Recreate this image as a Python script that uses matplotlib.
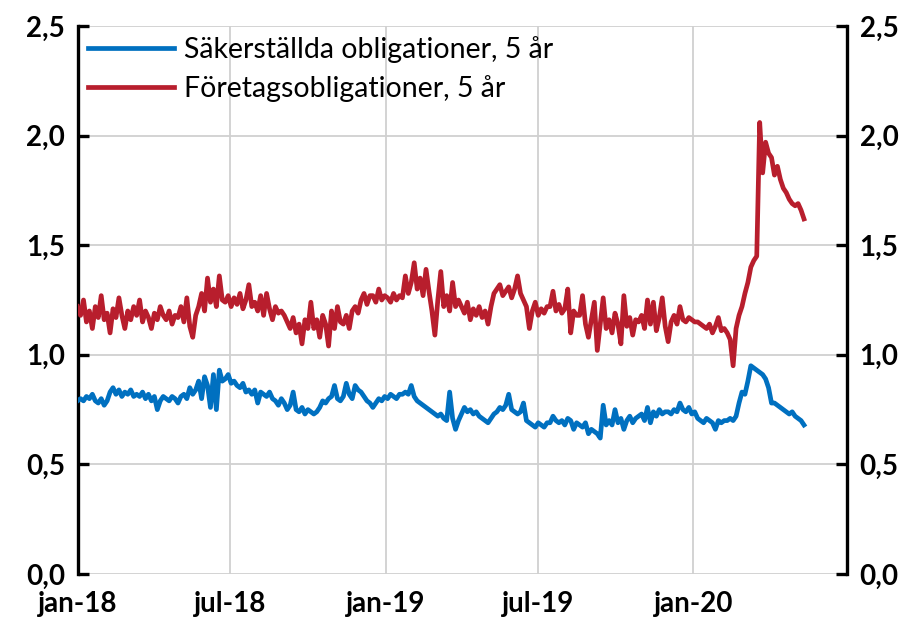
import pandas as pd
import matplotlib
matplotlib.use('Agg')
from matplotlib import pyplot as plt

# Räntor (procent), ungefär två observationer per vecka från jan-2018
foretag = [
    1.22, 1.18, 1.25, 1.15, 1.20, 1.12, 1.22, 1.17, 1.27, 1.16,
    1.19, 1.10, 1.21, 1.17, 1.26, 1.18, 1.12, 1.20, 1.16, 1.22,
    1.18, 1.25, 1.15, 1.20, 1.17, 1.12, 1.19, 1.16, 1.22, 1.18,
    1.16, 1.20, 1.14, 1.18, 1.17, 1.22, 1.15, 1.26, 1.13, 1.08,
    1.18, 1.22, 1.28, 1.20, 1.35, 1.24, 1.30, 1.22, 1.36, 1.25,
    1.24, 1.27, 1.22, 1.26, 1.23, 1.28, 1.21, 1.25, 1.32, 1.22,
    1.24, 1.20, 1.27, 1.18, 1.28, 1.21, 1.16, 1.22, 1.19, 1.20,
    1.18, 1.15, 1.12, 1.17, 1.10, 1.14, 1.05, 1.16, 1.12, 1.24,
    1.12, 1.16, 1.08, 1.18, 1.14, 1.04, 1.20, 1.12, 1.22, 1.15,
    1.14, 1.18, 1.12, 1.20, 1.22, 1.19, 1.25, 1.28, 1.23, 1.27,
    1.27, 1.24, 1.30, 1.25, 1.27, 1.26, 1.24, 1.28, 1.25, 1.27,
    1.26, 1.36, 1.28, 1.33, 1.42, 1.30, 1.35, 1.27, 1.39, 1.29,
    1.20, 1.09, 1.25, 1.38, 1.22, 1.27, 1.20, 1.33, 1.22, 1.25,
    1.22, 1.19, 1.24, 1.16, 1.21, 1.18, 1.22, 1.17, 1.20, 1.14,
    1.22, 1.28, 1.30, 1.32, 1.27, 1.29, 1.31, 1.26, 1.30, 1.36,
    1.28, 1.25, 1.22, 1.12, 1.20, 1.24, 1.18, 1.21, 1.19, 1.22,
    1.22, 1.29, 1.20, 1.23, 1.19, 1.21, 1.30, 1.10, 1.20, 1.18,
    1.18, 1.27, 1.14, 1.08, 1.16, 1.24, 1.02, 1.14, 1.26, 1.12,
    1.16, 1.10, 1.19, 1.14, 1.05, 1.27, 1.13, 1.17, 1.09, 1.16,
    1.15, 1.18, 1.12, 1.25, 1.14, 1.24, 1.11, 1.17, 1.26, 1.13,
    1.06, 1.15, 1.18, 1.14, 1.22, 1.16, 1.15, 1.17, 1.16, 1.15,
    1.15, 1.14, 1.13, 1.12, 1.14, 1.10, 1.13, 1.17, 1.11, 1.12,
    1.10, 1.07, 0.95, 1.12, 1.18, 1.22, 1.28, 1.33, 1.40, 1.43,
    1.45, 2.06, 1.83, 1.97, 1.92, 1.90, 1.82, 1.86, 1.80, 1.76,
    1.74, 1.71, 1.69, 1.68, 1.69, 1.66, 1.62,
]

sakerstallda = [
    0.79, 0.80, 0.79, 0.81, 0.80, 0.82, 0.79, 0.78, 0.80, 0.77,
    0.79, 0.83, 0.85, 0.82, 0.84, 0.81, 0.83, 0.82, 0.84, 0.81,
    0.82, 0.81, 0.83, 0.80, 0.82, 0.79, 0.81, 0.75, 0.79, 0.81,
    0.80, 0.79, 0.81, 0.80, 0.78, 0.81, 0.82, 0.80, 0.85, 0.82,
    0.84, 0.88, 0.80, 0.90, 0.86, 0.76, 0.91, 0.75, 0.93, 0.88,
    0.89, 0.91, 0.87, 0.88, 0.86, 0.85, 0.87, 0.83, 0.84, 0.82,
    0.84, 0.78, 0.83, 0.82, 0.81, 0.83, 0.80, 0.79, 0.77, 0.80,
    0.78, 0.75, 0.77, 0.83, 0.75, 0.74, 0.76, 0.73, 0.75, 0.74,
    0.73, 0.74, 0.76, 0.79, 0.78, 0.80, 0.81, 0.86, 0.80, 0.79,
    0.81, 0.87, 0.82, 0.80, 0.86, 0.84, 0.83, 0.81, 0.79, 0.78,
    0.76, 0.78, 0.80, 0.79, 0.81, 0.80, 0.82, 0.81, 0.80, 0.82,
    0.82, 0.83, 0.82, 0.86, 0.81, 0.79, 0.78, 0.77, 0.76, 0.75,
    0.74, 0.73, 0.72, 0.73, 0.71, 0.70, 0.83, 0.71, 0.66, 0.70,
    0.73, 0.76, 0.74, 0.75, 0.73, 0.74, 0.72, 0.71, 0.70, 0.69,
    0.71, 0.73, 0.74, 0.76, 0.75, 0.77, 0.82, 0.75, 0.74, 0.73,
    0.74, 0.78, 0.70, 0.69, 0.68, 0.67, 0.69, 0.68, 0.67, 0.69,
    0.69, 0.72, 0.70, 0.69, 0.70, 0.68, 0.71, 0.70, 0.66, 0.69,
    0.68, 0.67, 0.69, 0.64, 0.66, 0.65, 0.64, 0.62, 0.77, 0.68,
    0.70, 0.68, 0.75, 0.69, 0.71, 0.66, 0.70, 0.72, 0.69, 0.71,
    0.72, 0.73, 0.70, 0.76, 0.69, 0.74, 0.72, 0.75, 0.73, 0.74,
    0.74, 0.73, 0.75, 0.74, 0.78, 0.75, 0.74, 0.76, 0.73, 0.74,
    0.71, 0.70, 0.69, 0.71, 0.70, 0.69, 0.66, 0.70, 0.69, 0.70,
    0.70, 0.71, 0.70, 0.72, 0.78, 0.83, 0.82, 0.88, 0.95, 0.94,
    0.93, 0.92, 0.91, 0.89, 0.85, 0.78, 0.78, 0.77, 0.76, 0.75,
    0.74, 0.73, 0.74, 0.72, 0.71, 0.70, 0.68,
]

serier = ['Säkerställda obligationer, 5 år', 'Företagsobligationer, 5 år']
farger = ['#0070C0', '#B81E2D']
yticks = [0.0, 0.5, 1.0, 1.5, 2.0, 2.5]
xtick_labels = ['jan-18', 'jul-18', 'jan-19', 'jul-19', 'jan-20']
xtick_dates = ['2018-01-01', '2018-07-01', '2019-01-01', '2019-07-01', '2020-01-01']

datum = pd.date_range('2018-01-01', periods=len(foretag), freq='84h')

plt.rcParams['font.family'] = ['Lato', 'DejaVu Sans']

fig = plt.figure(figsize=(9.15, 6.27), dpi=100)
ax = fig.add_axes([0.0848, 0.0845, 0.8409, 0.874])

ax.plot(datum, sakerstallda, color=farger[0], lw=3.4, label=serier[0], zorder=3)
ax.plot(datum, foretag, color=farger[1], lw=3.4, label=serier[1], zorder=3)

ax.set_xlim(pd.Timestamp('2018-01-01'), pd.Timestamp('2020-07-01'))
ax.set_ylim(0, 2.5)
ax.set_xticks(pd.to_datetime(xtick_dates))
ax.set_xticklabels(xtick_labels)
ax.set_yticks(yticks)
ax.set_yticklabels([('%.1f' % v).replace('.', ',') for v in yticks])
ax.grid(True, color='#d0d0d0', lw=1.3)
ax.set_axisbelow(True)

for s in ['top', 'bottom']:
    ax.spines[s].set_visible(False)
for s in ['left', 'right']:
    ax.spines[s].set_linewidth(2.4)

ax.tick_params(axis='x', length=0, pad=12, labelsize=20)
ax.tick_params(axis='y', direction='in', length=8, width=2.4, pad=9, labelsize=20,
               right=True, labelright=True)
for lab in ax.get_xticklabels():
    lab.set_fontweight('bold')
for t in ax.yaxis.get_major_ticks():
    t.label1.set_fontweight('bold')
    t.label2.set_fontweight('bold')

ax.legend(loc='upper left', frameon=False, fontsize=20.5, handlelength=3.05,
          handletextpad=0.35, borderaxespad=0.0, borderpad=0.35, labelspacing=0.42,
          bbox_to_anchor=(0.0, 1.0))

plt.savefig('out.png', dpi=100)
